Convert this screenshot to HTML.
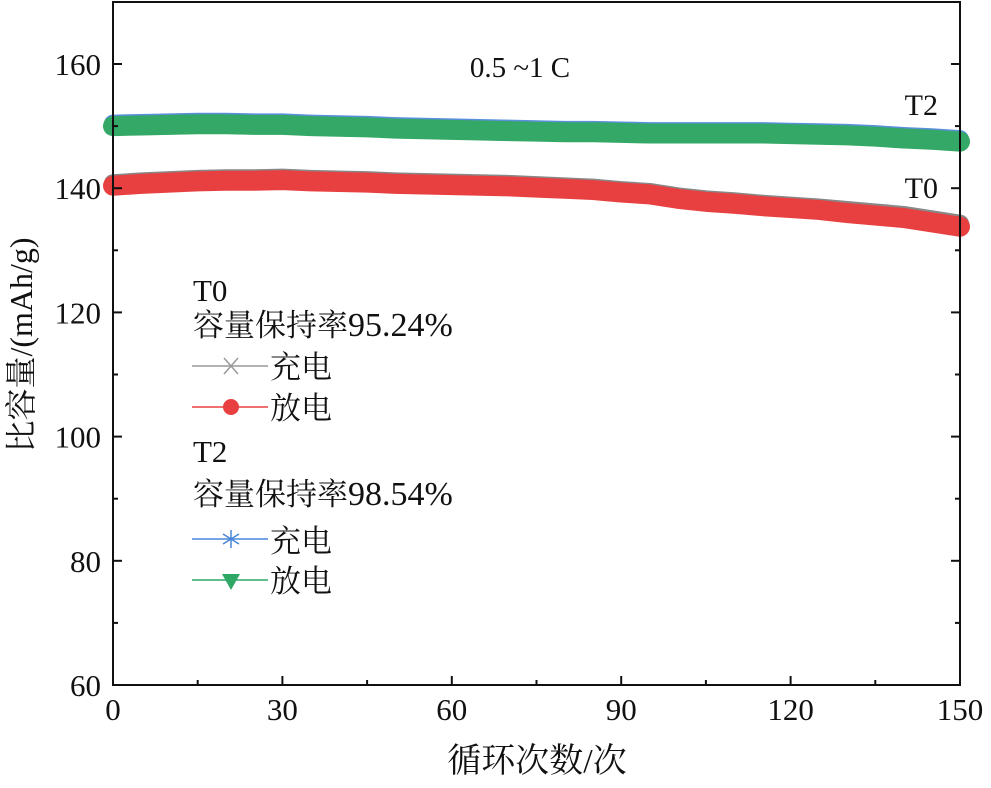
<!DOCTYPE html>
<html><head><meta charset="utf-8"><style>
body{margin:0;background:#fff;}
svg text{font-family:"Liberation Serif","Noto Serif CJK SC",serif;fill:#111;}
</style></head><body>
<svg id="chart" width="991" height="783" viewBox="0 0 991 783" xmlns="http://www.w3.org/2000/svg">
<g id="marks"></g>
<rect x="113" y="2" width="847" height="683" fill="none" stroke="#111" stroke-width="2"/>
<g id="axes"></g>
<text x="520" y="77" font-size="29" text-anchor="middle">0.5 ~1 C</text>
<text x="938" y="115" font-size="30" text-anchor="end">T2</text>
<text x="938" y="198" font-size="30" text-anchor="end">T0</text>
<text x="537" y="772" font-size="34" text-anchor="middle">循环次数/次</text>
<text transform="translate(32,345) rotate(-90)" font-size="32" text-anchor="middle">比容量/(mAh/g)</text>
<g font-size="31">
<text x="193" y="301">T0</text>
<text x="193" y="336">容量保持率<tspan font-size="34">95.24%</tspan></text>
<g><line x1="192" y1="366" x2="268" y2="366" stroke="#999" stroke-width="1.5"/><path d="M224,358 L238,374 M238,358 L224,374" stroke="#999" stroke-width="1.5"/><text x="270" y="378">充电</text></g>
<g><line x1="192" y1="407" x2="268" y2="407" stroke="#e84040" stroke-width="1.5"/><circle cx="231" cy="407" r="8" fill="#e84040"/><text x="270" y="419">放电</text></g>
<text x="193" y="462">T2</text>
<text x="193" y="505">容量保持率<tspan font-size="34">98.54%</tspan></text>
<g><line x1="192" y1="539" x2="268" y2="539" stroke="#4a86d8" stroke-width="1.5"/><path d="M231,530 V548 M223,534 L239,544 M239,534 L223,544" stroke="#4a86d8" stroke-width="1.5"/><text x="270" y="552">充电</text></g>
<g><line x1="192" y1="580" x2="268" y2="580" stroke="#2fa866" stroke-width="1.5"/><path d="M222,574 L240,574 L231,590 Z" fill="#2fa866"/><text x="270" y="592">放电</text></g>
</g>
</svg>
<script>
const cycles=[0,5,10,15,20,25,30,35,40,45,50,55,60,65,70,75,80,85,90,95,100,105,110,115,120,125,130,135,140,145,150];
const t0Discharge=[140.4,140.7,140.9,141.1,141.2,141.2,141.3,141.1,141.0,140.9,140.7,140.6,140.5,140.4,140.3,140.1,139.9,139.7,139.3,139.0,138.3,137.8,137.5,137.1,136.8,136.5,136.0,135.6,135.2,134.5,133.8];
const t0Charge=[140.8,141.1,141.3,141.5,141.6,141.6,141.7,141.5,141.4,141.3,141.1,141.0,140.9,140.8,140.7,140.5,140.3,140.1,139.7,139.4,138.7,138.2,137.9,137.5,137.2,136.9,136.5,136.1,135.7,135.0,134.3];
const t2Discharge=[150.0,150.1,150.2,150.3,150.3,150.2,150.2,150.0,149.9,149.8,149.6,149.5,149.4,149.3,149.2,149.1,149.0,149.0,148.9,148.8,148.8,148.8,148.8,148.8,148.7,148.6,148.5,148.3,148.0,147.8,147.5];
const t2Charge=[150.4,150.5,150.6,150.7,150.7,150.6,150.6,150.4,150.3,150.2,150.0,149.9,149.8,149.7,149.6,149.5,149.4,149.4,149.3,149.2,149.2,149.2,149.2,149.2,149.1,149.0,148.9,148.7,148.4,148.2,147.9];
const xTicks=[0,30,60,90,120,150];
const yTicks=[60,80,100,120,140,160];
const X0=113,X1=960,Y0=685,YT=64;
const sx=v=>X0+(v-0)/150*(X1-X0);
const sy=v=>Y0-(v-60)/100*(Y0-YT);
const NS="http://www.w3.org/2000/svg";
const marks=document.getElementById('marks'),axes=document.getElementById('axes');
function mk(tag,attrs,parent){const e=document.createElementNS(NS,tag);for(const k in attrs)e.setAttribute(k,attrs[k]);parent.appendChild(e);return e;}
function series(vals,color,w,name){
  const g=mk('g',{},marks);
  
  
  const pts=cycles.map((c,i)=>sx(c)+','+sy(vals[i])).join(' ');
  const p=mk('polyline',{points:pts,fill:'none',stroke:color,'stroke-width':w,'stroke-linejoin':'round','stroke-linecap':'round'},g);
  
  
}
series(t2Charge,'#5a8fdc',18,'t2-charge-series');
series(t2Discharge,'#34a866',20,'t2-discharge-series');
series(t0Charge,'#888',18,'t0-charge-series');
series(t0Discharge,'#e84040',20,'t0-discharge-series');
xTicks.forEach((t,i)=>{
  const x=sx(t);
  const l=mk('line',{x1:x,y1:Y0,x2:x,y2:Y0-9,stroke:'#111','stroke-width':2},axes);
  
  
  const tx=mk('text',{x:x,y:Y0+35,'font-size':31,'text-anchor':'middle'},axes);
  tx.textContent=t;
  
  
  if(i<xTicks.length-1){const m=sx(t+15);
    const ml=mk('line',{x1:m,y1:Y0,x2:m,y2:Y0-5,stroke:'#111','stroke-width':2},axes);
    
    }
});
yTicks.forEach((t,i)=>{
  const y=sy(t);
  [[X0,X0+9],[X1,X1-9]].forEach(a=>{const l=mk('line',{x1:a[0],y1:y,x2:a[1],y2:y,stroke:'#111','stroke-width':2},axes);
    
    });
  const tx=mk('text',{x:X0-12,y:y+11,'font-size':31,'text-anchor':'end'},axes);
  tx.textContent=t;
  
  
  const m=sy(t+10);
  if(t+10<170){[[X0,X0+5],[X1,X1-5]].forEach(a=>{const ml=mk('line',{x1:a[0],y1:m,x2:a[1],y2:m,stroke:'#111','stroke-width':2},axes);
    
    });}
});
</script>
</body></html>
